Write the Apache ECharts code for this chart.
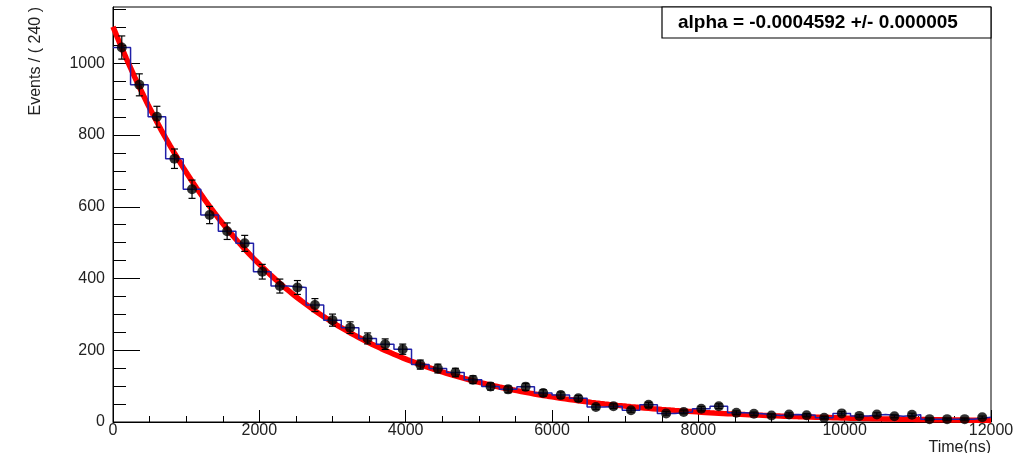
<!DOCTYPE html>
<html>
<head>
<meta charset="utf-8">
<script src="https://cdn.jsdelivr.net/npm/echarts@6/dist/echarts.min.js"></script>
<style>
  html, body { margin: 0; padding: 0; background: #fff; }
  #chart { width: 1028px; height: 453px; }
</style>
</head>
<body>
<div id="chart"></div>
<script>
// Decay-time histogram: 50 bins of 240 ns from 0 to 12000 ns
const binWidth = 240;
const timeMin = 0;
const timeMax = 12000;
const counts = [1044, 940, 851, 734, 649, 577, 532, 498, 419, 379,
                375, 326, 284, 263, 233, 217, 203, 160, 149, 138,
                118, 99, 91, 98, 81, 75, 66, 42, 44, 33,
                48, 24, 28, 37, 44, 26, 23, 18, 21, 19,
                12, 24, 17, 21, 16, 20, 8, 8, 8, 13];

// Exponential fit result: N(t) = fitNorm * exp(alpha * t)
const alpha = -0.0004592;
const alphaErr = 0.000005;
const fitNorm = 1102;

// Axis tick labels
const xTicks = [0, 2000, 4000, 6000, 8000, 10000, 12000];
const yTicks = [0, 200, 400, 600, 800, 1000];
const yTop = 1157;

const FONT = "'Liberation Sans', Arial, Helvetica, sans-serif";

// data points at bin centres with Poisson errors
const points = counts.map((c, i) => [timeMin + (i + 0.5) * binWidth, c]);
const errBars = counts.map((c, i) => [timeMin + (i + 0.5) * binWidth, c - Math.sqrt(c), c + Math.sqrt(c)]);

// step outline of the histogram
const steps = [];
counts.forEach((c, i) => {
  steps.push([timeMin + i * binWidth, c]);
  steps.push([timeMin + (i + 1) * binWidth, c]);
});

// fitted curve sampled along the time axis
const fitCurve = [];
for (let t = timeMin; t <= timeMax; t += 60) {
  fitCurve.push([t, fitNorm * Math.exp(alpha * t)]);
}

const yMinorTicks = [];
for (let v = 0; v <= yTop; v += 50) yMinorTicks.push(v);

const plain = v => String(v);

const chart = echarts.init(document.getElementById('chart'), null, { renderer: 'canvas' });

chart.setOption({
  animation: false,
  backgroundColor: '#ffffff',
  grid: {
    left: 113, right: 37, top: 7, bottom: 31,
    show: true, borderColor: '#000', borderWidth: 1, backgroundColor: 'transparent'
  },
  xAxis: {
    type: 'value',
    min: timeMin, max: timeMax, interval: 2000,
    axisLine: { show: true, onZero: false, lineStyle: { color: '#000', width: 1 } },
    axisTick: { show: true, inside: true, length: 12, lineStyle: { color: '#000' } },
    minorTick: { show: true, splitNumber: 4, length: 6, lineStyle: { color: '#000' } },
    splitLine: { show: false },
    axisLabel: {
      show: true, margin: 1, color: '#222', fontSize: 16, fontFamily: FONT,
      customValues: xTicks, formatter: plain
    }
  },
  yAxis: [{
    type: 'value',
    min: 0, max: yTop,
    axisLine: { show: true, onZero: false, lineStyle: { color: '#000', width: 1 } },
    axisTick: { show: true, inside: true, length: 27, customValues: yTicks, lineStyle: { color: '#000' } },
    splitLine: { show: false },
    axisLabel: {
      show: true, margin: 8, color: '#222', fontSize: 16, fontFamily: FONT,
      customValues: yTicks, formatter: plain
    }
  }, {
    type: 'value',
    min: 0, max: yTop,
    position: 'left',
    axisLine: { show: false },
    axisTick: { show: true, inside: true, length: 13, customValues: yMinorTicks, lineStyle: { color: '#000' } },
    splitLine: { show: false },
    axisLabel: { show: false }
  }],
  series: [
    {
      name: 'fit',
      type: 'line',
      data: fitCurve,
      showSymbol: false,
      clip: true,
      lineStyle: { color: '#ff0000', width: 5.5 },
      z: 2
    },
    {
      name: 'histogram',
      type: 'line',
      data: steps,
      showSymbol: false,
      clip: true,
      lineStyle: { color: '#2020a8', width: 1.5 },
      z: 3
    },
    {
      name: 'errors',
      type: 'custom',
      data: errBars,
      z: 4,
      renderItem: function (params, api) {
        const x = api.value(0);
        const lo = api.coord([x, api.value(1)]);
        const hi = api.coord([x, api.value(2)]);
        const cap = 3.5;
        const style = { stroke: '#000', lineWidth: 1.2 };
        return {
          type: 'group',
          children: [
            { type: 'line', shape: { x1: lo[0], y1: lo[1], x2: hi[0], y2: hi[1] }, style },
            { type: 'line', shape: { x1: lo[0] - cap, y1: lo[1], x2: lo[0] + cap, y2: lo[1] }, style },
            { type: 'line', shape: { x1: hi[0] - cap, y1: hi[1], x2: hi[0] + cap, y2: hi[1] }, style }
          ]
        };
      }
    },
    {
      name: 'data',
      type: 'scatter',
      data: points,
      symbol: 'circle',
      symbolSize: 10,
      itemStyle: { color: '#000' },
      z: 5
    }
  ],
  graphic: [
    {
      type: 'rect',
      shape: { x: 662, y: 7, width: 329, height: 31 },
      style: { fill: '#fff', stroke: '#000', lineWidth: 1.2 },
      z: 100
    },
    {
      type: 'text',
      x: 678, y: 22.5,
      style: {
        text: 'alpha = ' + alpha.toFixed(7) + ' +/- ' + alphaErr.toFixed(6),
        fontFamily: FONT, fontWeight: 'bold', fontSize: 19, fill: '#000',
        align: 'left', verticalAlign: 'middle'
      },
      z: 101
    },
    {
      type: 'text',
      x: 36, y: 7,
      rotation: Math.PI / 2,
      style: {
        text: 'Events / ( 240 )',
        fontFamily: FONT, fontSize: 16, fill: '#222',
        align: 'right', verticalAlign: 'middle'
      }
    },
    {
      type: 'text',
      x: 991, y: 440,
      style: {
        text: 'Time(ns)',
        fontFamily: FONT, fontSize: 16, fill: '#222',
        align: 'right', verticalAlign: 'top'
      }
    }
  ]
});
</script>
</body>
</html>
